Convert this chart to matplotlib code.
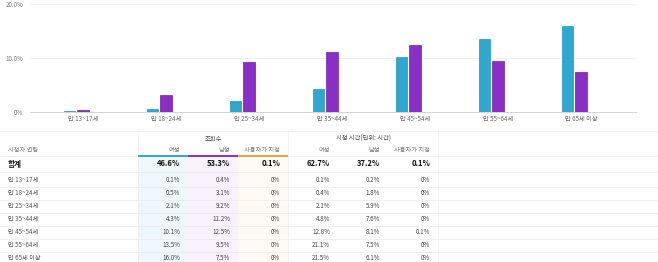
import matplotlib.pyplot as plt
import numpy as np

plt.rcParams['font.family'] = ['Noto Sans CJK KR', 'DejaVu Sans']

# === 데이터 ===
age_groups = ['만 13~17세', '만 18~24세', '만 25~34세', '만 35~44세',
              '만 45~54세', '만 55~64세', '만 65세 이상']
views_female = [0.1, 0.5, 2.1, 4.3, 10.1, 13.5, 16.0]
views_male = [0.4, 3.1, 9.2, 11.2, 12.5, 9.5, 7.5]
views_custom = [0.0, 0.0, 0.0, 0.0, 0.0, 0.0, 0.0]
watch_female = [0.1, 0.4, 2.1, 4.8, 12.8, 21.1, 21.5]
watch_male = [0.2, 1.8, 5.9, 7.6, 8.1, 7.5, 6.1]
watch_custom = [0.0, 0.0, 0.0, 0.0, 0.1, 0.0, 0.0]
totals_views = [46.6, 53.3, 0.1]
totals_watch = [62.7, 37.2, 0.1]
col_names = ['여성', '남성', '사용자가 지정']
y_ticks = [0, 10, 20]
y_tick_labels = ['0%', '10.0%', '20.0%']

C_F = '#2fa8d1'
C_M = '#8b2ec6'
C_U = '#e9a23b'

W, H = 658, 262
fig = plt.figure(figsize=(W / 100, H / 100), dpi=100)

# === 막대 그래프 ===
ax = fig.add_axes([30 / W, 1 - 112 / H, 606 / W, 108 / H])
x = np.arange(len(age_groups))
bw = 0.14
ax.bar(x - 0.163, views_female, bw, color=C_F, edgecolor='#2592b8', linewidth=0.5)
ax.bar(x, views_male, bw, color=C_M, edgecolor='#6f1fa3', linewidth=0.5)
ax.bar(x + 0.163, [v + 0.04 for v in views_custom], bw, color=C_U, linewidth=0)
ax.set_xlim(-0.64, 6.66)
ax.set_ylim(0, 20)
ax.set_yticks(y_ticks)
ax.set_yticklabels(y_tick_labels, fontsize=4.5, color='#777777')
ax.set_xticks(x)
ax.set_xticklabels(age_groups, fontsize=4.5, color='#666666')
ax.tick_params(length=0, pad=2)
ax.tick_params(axis='y', pad=5)
ax.grid(axis='y', color='#eeeeee', linewidth=0.6)
ax.set_axisbelow(True)
for s in ['top', 'right', 'left']:
    ax.spines[s].set_visible(False)
ax.spines['bottom'].set_color('#cccccc')
ax.spines['bottom'].set_linewidth(0.6)

# === 표 ===
tab = fig.add_axes([0, 0, 1, 1], zorder=-1)
tab.set_xlim(0, W)
tab.set_ylim(H, 0)
tab.axis('off')

col_left = [138, 188, 238, 288, 338, 388]
col_w = 50
row_y = [180, 193, 206, 219, 232, 245, 258]

# 배경 음영 (조회수 열)
for cl, c in zip(col_left[:3], ['#eef8fb', '#f9f1fb', '#fdf9f3']):
    tab.fill_between([cl, cl + col_w], 156, H, color=c, linewidth=0)

# 가로 구분선
for yy in [131, 156, 172, 187, 200, 213, 226, 239, 252]:
    tab.plot([0, W], [yy, yy], color='#ececec', linewidth=0.6)
for xx in [138, 288, 438]:
    tab.plot([xx, xx], [131, H], color='#f0f0f0', linewidth=0.6)

# 헤더
tab.text(213, 139, '조회수', fontsize=4.5, ha='center', va='center', color='#444444')
tab.text(363, 139, '시청 시간(단위: 시간)', fontsize=4.5, ha='center', va='center', color='#444444')
tab.text(8, 150, '시청자 연령', fontsize=4.5, ha='left', va='center', color='#777777')
for i, cl in enumerate(col_left):
    tab.text(cl + col_w - 8, 150, col_names[i % 3], fontsize=4.5, ha='right',
             va='center', color='#777777')
for cl, c in zip(col_left[:3], [C_F, C_M, C_U]):
    tab.plot([cl, cl + col_w], [156, 156], color=c, linewidth=1.4, solid_capstyle='butt')

# 합계
tab.text(8, 164, '합계', fontsize=5.5, fontweight='bold', ha='left', va='center', color='#111111')
for cl, v in zip(col_left, totals_views + totals_watch):
    tab.text(cl + col_w - 8, 164, f'{v:.1f}%', fontsize=5.5, fontweight='bold',
             ha='right', va='center', color='#111111')


def fmt(v):
    return '0%' if v == 0 else f'{v:.1f}%'


cols = [views_female, views_male, views_custom, watch_female, watch_male, watch_custom]
for r, age in enumerate(age_groups):
    tab.text(8, row_y[r], age, fontsize=4.5, ha='left', va='center', color='#555555')
    for cl, col in zip(col_left, cols):
        tab.text(cl + col_w - 8, row_y[r], fmt(col[r]), fontsize=4.5, ha='right',
                 va='center', color='#444444')

plt.savefig('out.png', dpi=100)
